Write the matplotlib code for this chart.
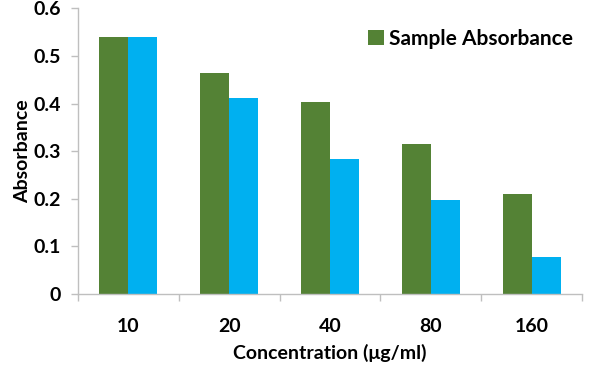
import matplotlib
matplotlib.use("Agg")
import matplotlib.pyplot as plt
import numpy as np
from matplotlib.ticker import FixedLocator

categories = ["10", "20", "40", "80", "160"]
sample_abs = [0.540, 0.464, 0.403, 0.315, 0.210]
second_abs = [0.540, 0.412, 0.284, 0.198, 0.078]
yticks = [0, 0.1, 0.2, 0.3, 0.4, 0.5, 0.6]
ytick_labels = ["0", "0.1", "0.2", "0.3", "0.4", "0.5", "0.6"]

plt.rcParams['font.family'] = ['Lato', 'DejaVu Sans']
plt.rcParams['font.weight'] = 'bold'

fig = plt.figure(figsize=(5.96, 3.68), dpi=100)
ax = fig.add_axes([78/596, 74/368, 504/596, 285.6/368])

x = np.arange(len(categories))
w = 0.287
ax.bar(x - w/2, sample_abs, width=w, color="#548235", label="Sample Absorbance")
ax.bar(x + w/2, second_abs, width=w, color="#00B0F0", label="_nolegend_")

ax.set_xlim(-0.5, len(categories) - 0.5)
ax.set_ylim(0, 0.6)
ax.set_yticks(yticks)
ax.set_yticklabels(ytick_labels, fontsize=14, fontweight='bold')
ax.set_xticks(x)
ax.set_xticklabels(categories, fontsize=14, fontweight='bold')
ax.xaxis.set_minor_locator(FixedLocator(np.arange(-0.5, len(categories), 1.0)))
ax.tick_params(axis='x', which='major', length=0, pad=17)
ax.tick_params(axis='x', which='minor', length=5, color="#BFBFBF", width=1)
ax.tick_params(axis='y', length=5, color="#BFBFBF", width=1, pad=7)

for s in ['top', 'right']:
    ax.spines[s].set_visible(False)
for s in ['left', 'bottom']:
    ax.spines[s].set_color("#BFBFBF")
    ax.spines[s].set_linewidth(1)

ax.set_xlabel("Concentration (μg/ml)", fontsize=14, fontweight='bold', labelpad=7)
ax.set_ylabel("Absorbance", fontsize=14, fontweight='bold', labelpad=2)

leg = ax.legend(loc='upper right', bbox_to_anchor=(1.02, 0.995), frameon=False,
                prop={'size': 15, 'weight': 'bold'}, handlelength=0.75, handleheight=0.75,
                handletextpad=0.25)

fig.savefig("out.png", dpi=100)
